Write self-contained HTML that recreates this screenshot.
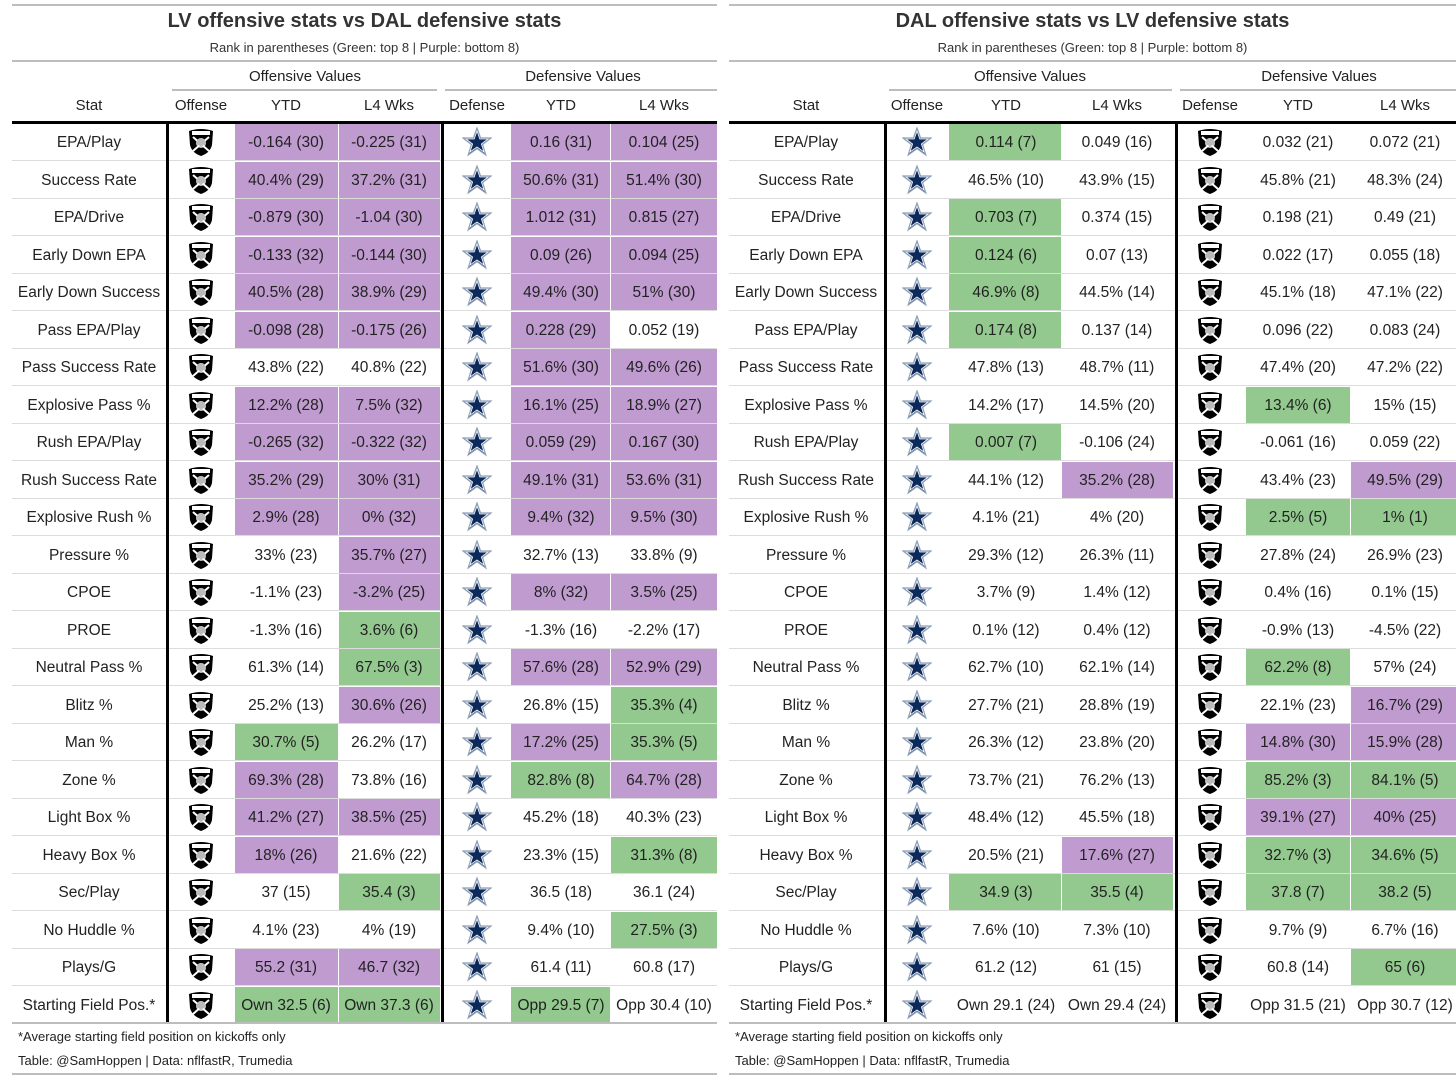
<!DOCTYPE html>
<html><head><meta charset="utf-8">
<style>
html,body{margin:0;padding:0;background:#fff;}
body{width:1456px;height:1079px;position:relative;overflow:hidden;font-family:"Liberation Sans",Arial,sans-serif;color:#222;}
.a{position:absolute;}
.t{position:absolute;white-space:nowrap;text-align:center;transform:translateX(-50%);}
.hl{position:absolute;height:2px;background:#bdbdbd;}
.rl{position:absolute;height:1px;background:#dcdcdc;}
.vl{position:absolute;width:3px;background:#000;}
</style></head><body>
<div id="root"></div>
<script>
// ---- data arrays ----
const stats = ["EPA/Play","Success Rate","EPA/Drive","Early Down EPA","Early Down Success","Pass EPA/Play","Pass Success Rate","Explosive Pass %","Rush EPA/Play","Rush Success Rate","Explosive Rush %","Pressure %","CPOE","PROE","Neutral Pass %","Blitz %","Man %","Zone %","Light Box %","Heavy Box %","Sec/Play","No Huddle %","Plays/G","Starting Field Pos.*"];
const lvOffYtd = ["-0.164 (30)","40.4% (29)","-0.879 (30)","-0.133 (32)","40.5% (28)","-0.098 (28)","43.8% (22)","12.2% (28)","-0.265 (32)","35.2% (29)","2.9% (28)","33% (23)","-1.1% (23)","-1.3% (16)","61.3% (14)","25.2% (13)","30.7% (5)","69.3% (28)","41.2% (27)","18% (26)","37 (15)","4.1% (23)","55.2 (31)","Own 32.5 (6)"];
const lvOffL4 = ["-0.225 (31)","37.2% (31)","-1.04 (30)","-0.144 (30)","38.9% (29)","-0.175 (26)","40.8% (22)","7.5% (32)","-0.322 (32)","30% (31)","0% (32)","35.7% (27)","-3.2% (25)","3.6% (6)","67.5% (3)","30.6% (26)","26.2% (17)","73.8% (16)","38.5% (25)","21.6% (22)","35.4 (3)","4% (19)","46.7 (32)","Own 37.3 (6)"];
const dalDefYtd = ["0.16 (31)","50.6% (31)","1.012 (31)","0.09 (26)","49.4% (30)","0.228 (29)","51.6% (30)","16.1% (25)","0.059 (29)","49.1% (31)","9.4% (32)","32.7% (13)","8% (32)","-1.3% (16)","57.6% (28)","26.8% (15)","17.2% (25)","82.8% (8)","45.2% (18)","23.3% (15)","36.5 (18)","9.4% (10)","61.4 (11)","Opp 29.5 (7)"];
const dalDefL4 = ["0.104 (25)","51.4% (30)","0.815 (27)","0.094 (25)","51% (30)","0.052 (19)","49.6% (26)","18.9% (27)","0.167 (30)","53.6% (31)","9.5% (30)","33.8% (9)","3.5% (25)","-2.2% (17)","52.9% (29)","35.3% (4)","35.3% (5)","64.7% (28)","40.3% (23)","31.3% (8)","36.1 (24)","27.5% (3)","60.8 (17)","Opp 30.4 (10)"];
const lvOffYtdC = "ppppppnppppnnnnngpppnnpg";
const lvOffL4C  = "ppppppnppppppggpnnpngnpg";
const dalDefYtdC= "pppppppppppnpnpnpgnnnnng";
const dalDefL4C = "pppppnpppppnpnpggpngngnn";
const dalOffYtd = ["0.114 (7)","46.5% (10)","0.703 (7)","0.124 (6)","46.9% (8)","0.174 (8)","47.8% (13)","14.2% (17)","0.007 (7)","44.1% (12)","4.1% (21)","29.3% (12)","3.7% (9)","0.1% (12)","62.7% (10)","27.7% (21)","26.3% (12)","73.7% (21)","48.4% (12)","20.5% (21)","34.9 (3)","7.6% (10)","61.2 (12)","Own 29.1 (24)"];
const dalOffL4 = ["0.049 (16)","43.9% (15)","0.374 (15)","0.07 (13)","44.5% (14)","0.137 (14)","48.7% (11)","14.5% (20)","-0.106 (24)","35.2% (28)","4% (20)","26.3% (11)","1.4% (12)","0.4% (12)","62.1% (14)","28.8% (19)","23.8% (20)","76.2% (13)","45.5% (18)","17.6% (27)","35.5 (4)","7.3% (10)","61 (15)","Own 29.4 (24)"];
const lvDefYtd = ["0.032 (21)","45.8% (21)","0.198 (21)","0.022 (17)","45.1% (18)","0.096 (22)","47.4% (20)","13.4% (6)","-0.061 (16)","43.4% (23)","2.5% (5)","27.8% (24)","0.4% (16)","-0.9% (13)","62.2% (8)","22.1% (23)","14.8% (30)","85.2% (3)","39.1% (27)","32.7% (3)","37.8 (7)","9.7% (9)","60.8 (14)","Opp 31.5 (21)"];
const lvDefL4 = ["0.072 (21)","48.3% (24)","0.49 (21)","0.055 (18)","47.1% (22)","0.083 (24)","47.2% (22)","15% (15)","0.059 (22)","49.5% (29)","1% (1)","26.9% (23)","0.1% (15)","-4.5% (22)","57% (24)","16.7% (29)","15.9% (28)","84.1% (5)","40% (25)","34.6% (5)","38.2 (5)","6.7% (16)","65 (6)","Opp 30.7 (12)"];
const dalOffYtdC = "gnggggnngnnnnnnnnnnngnnn";
const dalOffL4C  = "nnnnnnnnnpnnnnnnnnnpgnnn";
const lvDefYtdC  = "nnnnnnngnngnnngnpgpggnnn";
const lvDefL4C   = "nnnnnnnnnpgnnnnppgpggngn";

const PURPLE="#c09bd0", GREEN="#93c98f";
const ROW0=123, RH=37.5;
const root=document.getElementById('root');

function el(tag,cls,style,text){const e=document.createElement(tag);if(cls)e.className=cls;Object.assign(e.style,style);if(text!=null)e.textContent=text;root.appendChild(e);return e;}
function rowY(i){return ROW0+i*RH;}

const raiders='<svg width="26" height="30" viewBox="0 0 26 30"><path d="M1 4 Q13 0 25 4 L24 18 Q22 26 13 29 Q4 26 2 18 Z" fill="#000"/><rect x="4" y="4" width="18" height="4" fill="#fff"/><circle cx="13" cy="16" r="5" fill="#c8c8c8"/><path d="M5 10 L21 24 M21 10 L5 24" stroke="#fff" stroke-width="2"/><circle cx="13" cy="15" r="4" fill="#bbb"/></svg>';
const star='<svg width="30" height="30" viewBox="0 0 30 30"><polygon points="15,1 18.6,11 29,11 20.6,17.5 23.8,28 15,21.6 6.2,28 9.4,17.5 1,11 11.4,11" fill="#0b2a5b" stroke="#8da0b8" stroke-width="1.2"/><polygon points="15,4 17.8,12 26,12 19.4,17 22,25 15,20 8,25 10.6,17 4,12 12.2,12" fill="none" stroke="#fff" stroke-width="0.8"/></svg>';

function panel(P){
  const top=el('div','hl',{left:P.x0+'px',top:'4px',width:(P.x1-P.x0)+'px'});
  
  const t=el('div','t',{left:((P.x0+P.x1)/2)+'px',top:'10px',fontSize:'20px',fontWeight:'bold',color:'#333'},P.title);
  
  const s=el('div','t',{left:((P.x0+P.x1)/2)+'px',top:'40px',fontSize:'13px',color:'#333'},'Rank in parentheses (Green: top 8 | Purple: bottom 8)');
  
  const h=el('div','hl',{left:P.x0+'px',top:'60px',width:(P.x1-P.x0)+'px'});
  
  P.groups.forEach(g=>{
    const gt=el('div','t',{left:g.cx+'px',top:'68px',fontSize:'15px'},g.label);
    
    const gl=el('div','hl',{left:g.l+'px',top:'89px',width:(g.r-g.l)+'px'});
    
  });
  P.heads.forEach(hd=>{
    const ht=el('div','t',{left:hd[0]+'px',top:'97px',fontSize:'15px'},hd[1]);
    
  });
  stats.forEach((st,i)=>{
    const y=rowY(i);
    P.cols.forEach(c=>{
      const code=c.colors[i];
      if(code==='p'||code==='g'){
        const bg=el('div','a',{left:c.l+'px',top:(y+1)+'px',width:(c.r-c.l)+'px',height:(RH-1.5)+'px',background:code==='p'?PURPLE:GREEN});
        
      }
      const v=el('div','t',{left:c.cx+'px',top:(y+11)+'px',fontSize:'15.5px'},c.vals[i]);
      
    });
    const sn=el('div','t',{left:P.statC+'px',top:(y+11)+'px',fontSize:'15.5px'},st);
    
    [[P.offC,P.offIcon],[P.defC,P.defIcon]].forEach(ic=>{
      const d=el('div','a',{left:(ic[0]-15)+'px',top:(y+4)+'px',width:'30px',height:'30px',textAlign:'center'});
      d.innerHTML=ic[1];
      
      
    });
    if(i<stats.length-1){
      const rl=el('div','rl',{left:P.x0+'px',top:(y+RH-0.5)+'px',width:(P.x1-P.x0)+'px'});
      
    }
  });
  const th=el('div','a',{left:P.x0+'px',top:'121px',width:(P.x1-P.x0)+'px',height:'3px',background:'#000'});
  
  const endY=rowY(stats.length);
  [P.v1,P.v2].forEach(vx=>{
    const v=el('div','vl',{left:vx+'px',top:'121px',height:(endY-121)+'px'});
    
  });
  const bl=el('div','hl',{left:P.x0+'px',top:(endY-1)+'px',width:(P.x1-P.x0)+'px'});
  
  const f1=el('div','a',{left:(P.x0+6)+'px',top:'1029px',fontSize:'13px',whiteSpace:'nowrap'},'*Average starting field position on kickoffs only');
  
  const f2=el('div','a',{left:(P.x0+6)+'px',top:'1053px',fontSize:'13px',whiteSpace:'nowrap'},'Table: @SamHoppen | Data: nflfastR, Trumedia');
  
  const fb=el('div','hl',{left:P.x0+'px',top:'1073px',width:(P.x1-P.x0)+'px'});
  
}

panel({x0:12,x1:717,title:'LV offensive stats vs DAL defensive stats',statC:89,offC:201,defC:477,
  offIcon:raiders,defIcon:star,v1:166,v2:441,
  groups:[{label:'Offensive Values',cx:305,l:172,r:437},{label:'Defensive Values',cx:583,l:445,r:717}],
  heads:[[89,'Stat'],[201,'Offense'],[286,'YTD'],[389,'L4 Wks'],[477,'Defense'],[561,'YTD'],[664,'L4 Wks']],
  cols:[{cx:286,l:235,r:338,vals:lvOffYtd,colors:lvOffYtdC},{cx:389,l:339,r:440,vals:lvOffL4,colors:lvOffL4C},
        {cx:561,l:511,r:610,vals:dalDefYtd,colors:dalDefYtdC},{cx:664,l:611,r:717,vals:dalDefL4,colors:dalDefL4C}]});
panel({x0:729,x1:1456,title:'DAL offensive stats vs LV defensive stats',statC:806,offC:917,defC:1210,
  offIcon:star,defIcon:raiders,v1:884,v2:1175,
  groups:[{label:'Offensive Values',cx:1030,l:889,r:1172},{label:'Defensive Values',cx:1319,l:1180,r:1456}],
  heads:[[806,'Stat'],[917,'Offense'],[1006,'YTD'],[1117,'L4 Wks'],[1210,'Defense'],[1298,'YTD'],[1405,'L4 Wks']],
  cols:[{cx:1006,l:949,r:1061,vals:dalOffYtd,colors:dalOffYtdC},{cx:1117,l:1062,r:1173,vals:dalOffL4,colors:dalOffL4C},
        {cx:1298,l:1246,r:1350,vals:lvDefYtd,colors:lvDefYtdC},{cx:1405,l:1351,r:1456,vals:lvDefL4,colors:lvDefL4C}]});
</script>
</body></html>
